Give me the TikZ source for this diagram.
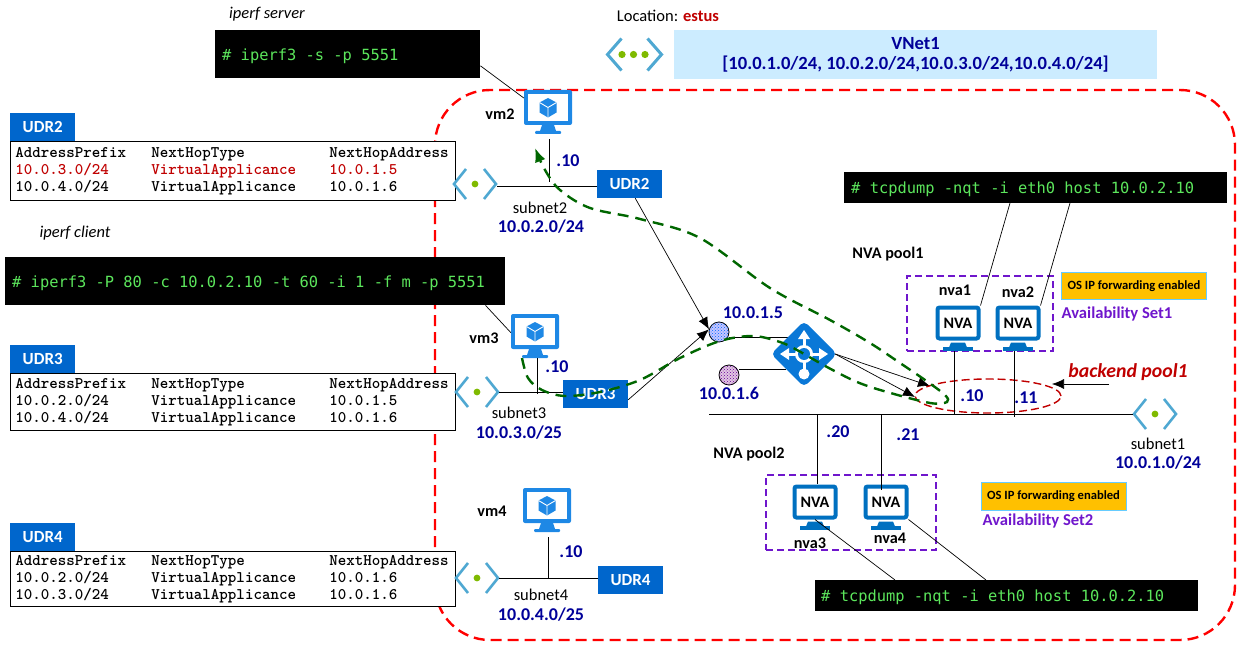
\documentclass[tikz,border=0pt]{standalone}
\usepackage{fontspec}
\setmainfont{Carlito}
\newfontfamily\termfont{DejaVu Sans Mono}
\usetikzlibrary{arrows.meta,positioning,patterns,calc,shapes.geometric}
\definecolor{navytxt}{HTML}{000099}
\definecolor{udrblue}{HTML}{0066CC}
\definecolor{vmblue}{HTML}{1E88E5}
\definecolor{nvablue}{HTML}{0070C0}
\definecolor{lbblue}{HTML}{0A78D7}
\definecolor{vnetblue}{HTML}{4FA8D2}
\definecolor{vnetgreen}{HTML}{7FBA00}
\definecolor{termgreen}{HTML}{5CE65C}
\definecolor{flowgreen}{HTML}{006600}
\definecolor{setpurple}{HTML}{6F16CC}
\definecolor{darkred}{HTML}{C00000}
\definecolor{palesky}{HTML}{CCECFF}
\definecolor{amber}{HTML}{FFC000}
\definecolor{amberedge}{HTML}{66CCFF}
\newcommand{\routerow}[3]{\makebox[136pt][l]{#1}\makebox[178pt][l]{#2}#3}
\tikzset{
  term/.style={rectangle, fill=black, text=termgreen, anchor=north west, align=flush left,
               font=\termfont\fontsize{15.4}{18}\selectfont, inner sep=0pt, text depth=0pt},
  udrtag/.style={rectangle, fill=udrblue, text=white, font=\bfseries\fontsize{17}{20}\selectfont,
                 minimum width=65pt, minimum height=28pt, inner sep=0pt},
  rtable/.style={rectangle, draw=black, fill=white, line width=0.9pt, anchor=north west, align=flush left,
                 font=\ttfamily\bfseries\fontsize{16.2}{17}\selectfont, minimum width=445pt,
                 inner sep=0pt, text width=438pt},
  navylbl/.style={text=navytxt, font=\bfseries\fontsize{18}{20}\selectfont, inner sep=0pt},
  sublbl/.style={font=\fontsize{16.5}{20}\selectfont, inner sep=0pt},
  namelbl/.style={font=\bfseries\fontsize{16.2}{18}\selectfont, inner sep=0pt},
  iplbl/.style={text=navytxt, font=\bfseries\fontsize{18}{20}\selectfont, inner sep=0pt},
  notelbl/.style={font=\itshape\fontsize{16.5}{20}\selectfont, inner sep=0pt},
  iconbox/.style={rectangle, inner sep=0pt, minimum width=#1, minimum height=44pt},
  nvamon/.style={rectangle, rounded corners=2pt, draw=nvablue, fill=white, line width=4pt,
                 minimum width=41pt, minimum height=31pt, inner sep=0pt,
                 font=\bfseries\fontsize{16}{18}\selectfont},
  setbox/.style={rectangle, draw=setpurple, dashed, dash pattern=on 7pt off 4pt, line width=1.7pt},
  setlbl/.style={text=setpurple, font=\bfseries\fontsize{16.6}{18}\selectfont, inner sep=0pt},
  fwdbox/.style={rectangle, fill=amber, draw=amberedge, line width=1pt,
                 font=\bfseries\fontsize{12.6}{15}\selectfont, minimum width=145pt, minimum height=27.5pt, inner sep=0pt},
  arr/.style={-{Latex[length=12pt,width=10pt]}, line width=0.7pt, draw=black},
  wire/.style={line width=0.9pt, draw=black},
  flow/.style={draw=flowgreen, line width=2.4pt, dash pattern=on 11pt off 7pt},
  vnetpic/.pic={
    \draw[vnetblue, line width=2.6pt] (-9,-15) -- (-21,0) -- (-9,15);
    \draw[vnetblue, line width=2.6pt] (9,-15) -- (21,0) -- (9,15);
  },
  vnetwide/.pic={
    \draw[vnetblue, line width=3pt] (-13,-16) -- (-27,0) -- (-13,16);
    \draw[vnetblue, line width=3pt] (13,-16) -- (27,0) -- (13,16);
  },
  vmpic/.pic={
    \fill[vmblue, rounded corners=2pt] (-24,-22) rectangle (24,13);
    \fill[white] (-20,-18) rectangle (20,9);
    \fill[vmblue] (-6,13) -- (6,13) -- (8,19) -- (-8,19) -- cycle;
    \fill[vmblue, rounded corners=1pt] (-13,19) rectangle (13,22);
    \fill[vmblue] (0,-14) -- (8.5,-9.5) -- (8.5,0.5) -- (0,5.5) -- (-8.5,0.5) -- (-8.5,-9.5) -- cycle;
    \draw[white, line width=0.9pt] (-8.5,-9.5) -- (0,-4.5) -- (8.5,-9.5) (0,-4.5) -- (0,5.5);
  },
  nvastand/.pic={
    \fill[nvablue] (-7,2) -- (7,2) -- (9,7) -- (-9,7) -- cycle;
    \fill[nvablue] (-15,6.5) rectangle (15,10.5);
  },
  lbpic/.pic={
    \fill[lbblue, rounded corners=5pt] (0,-33) -- (33,0) -- (0,33) -- (-33,0) -- cycle;
    \draw[white, line width=3pt] (-19,0) -- (19,0) (0,-18) -- (0,16);
    \fill[white] (0,-24) -- (6,-15) -- (-6,-15) -- cycle;
    \fill[white] (-24,0) -- (-15,-6) -- (-15,6) -- cycle;
    \fill[white] (24,0) -- (15,-6) -- (15,6) -- cycle;
    \fill[white] (0,0) circle (9);
    \fill[lbblue] (0,0) circle (6);
    \fill[white] (0,20) circle (5.5);
  },
}
\begin{document}
\begin{tikzpicture}[x=1pt,y=-1pt,node distance=0pt]
  \useasboundingbox (0,0) rectangle (1247,650);
  \draw[draw=red, line width=2.4pt, dash pattern=on 11pt off 6pt, rounded corners=55pt] (435,90) rectangle (1235,640);

  \node[notelbl] (srvnote) at (267,14) {iperf server};
  \node[term, minimum width=265pt, minimum height=48pt, text width=257pt] (srvterm) at (215,30) {\hspace*{3pt}\# iperf3 -s -p 5551};
  \node[notelbl] (clinote) at (75,233) {iperf client};
  \node[term, minimum width=500pt, minimum height=48pt, text width=500pt] (cliterm) at (5,257) {\hspace*{7pt}\# iperf3 -P 80 -c 10.0.2.10 -t 60 -i 1 -f m -p 5551};
  \node[term, minimum width=383pt, minimum height=31pt, text width=383pt] (dumpa) at (844,172) {\hspace*{7pt}\# tcpdump -nqt -i eth0 host 10.0.2.10};
  \node[term, minimum width=383pt, minimum height=31pt, text width=383pt] (dumpb) at (815,580) {\hspace*{6pt}\# tcpdump -nqt -i eth0 host 10.0.2.10};

  \node[sublbl, font=\fontsize{16.5}{18}\selectfont] (loc) at (668,16) {Location: \textcolor{darkred}{\textbf{estus}}};
  \node[iconbox=58pt] (vnet1) at (634.5,54.5) {};
  \pic at (vnet1) {vnetwide};
  \fill[vnetgreen] (622,54.5) circle (3.6) (633.5,54.5) circle (3.6) (645,54.5) circle (3.6);
  \node[rectangle, fill=palesky, minimum width=483pt, minimum height=49pt, align=center, inner sep=0pt,
        text=navytxt, font=\bfseries\fontsize{18.6}{20}\selectfont] (vnetbox) at (915.5,54.5) {VNet1\\{}[10.0.1.0/24, 10.0.2.0/24,10.0.3.0/24,10.0.4.0/24]};

  \node[rtable, minimum height=59pt] (tbl2) at (10,141) {\hspace*{1.5pt}\parbox{436pt}{\routerow{AddressPrefix}{NextHopType}{NextHopAddress}\\\color{darkred}\routerow{10.0.3.0/24}{VirtualApplicance}{10.0.1.5}\\\color{black}\routerow{10.0.4.0/24}{VirtualApplicance}{10.0.1.6}}};
  \node[udrtag, above right=0pt and 0pt of tbl2.north west, anchor=south west] (hdr2) {UDR2};
  \node[rtable, minimum height=57pt] (tbl3) at (10,373) {\hspace*{1.5pt}\parbox{436pt}{\routerow{AddressPrefix}{NextHopType}{NextHopAddress}\\\routerow{10.0.2.0/24}{VirtualApplicance}{10.0.1.5}\\\routerow{10.0.4.0/24}{VirtualApplicance}{10.0.1.6}}};
  \node[udrtag, above right=0pt and 0pt of tbl3.north west, anchor=south west] (hdr3) {UDR3};
  \node[rtable, minimum height=55pt] (tbl4) at (10,551) {\hspace*{1.5pt}\parbox{436pt}{\routerow{AddressPrefix}{NextHopType}{NextHopAddress}\\\routerow{10.0.2.0/24}{VirtualApplicance}{10.0.1.6}\\\routerow{10.0.3.0/24}{VirtualApplicance}{10.0.1.6}}};
  \node[udrtag, above right=0pt and 0pt of tbl4.north west, anchor=south west] (hdr4) {UDR4};

  \node[iconbox=48pt] (vm2) at (548,112) {};
  \pic at (vm2) {vmpic};
  \node[namelbl] (vm2lbl) at (500,114) {vm2};
  \node[iconbox=48pt] (vm3) at (535,336) {};
  \pic at (vm3) {vmpic};
  \node[namelbl] (vm3lbl) at (484,338) {vm3};
  \node[iconbox=48pt] (vm4) at (547,510) {};
  \pic at (vm4) {vmpic};
  \node[namelbl] (vm4lbl) at (492,511) {vm4};

  \node[iconbox=44pt] (sub2) at (475,184) {};
  \pic at (sub2) {vnetpic};
  \fill[vnetgreen] (sub2) circle (3.4);
  \node[iconbox=44pt] (sub3) at (477,392) {};
  \pic at (sub3) {vnetpic};
  \fill[vnetgreen] (sub3) circle (3.4);
  \node[iconbox=44pt] (sub4) at (477,578) {};
  \pic at (sub4) {vnetpic};
  \fill[vnetgreen] (sub4) circle (3.4);
  \node[iconbox=44pt] (sub1) at (1155,414) {};
  \pic at (sub1) {vnetpic};
  \fill[vnetgreen] (sub1) circle (3.4);

  \node[udrtag] (udr2) at (629.5,184) {UDR2};
  \node[udrtag] (udr3) at (595.5,394) {UDR3};
  \node[udrtag] (udr4) at (630.5,580) {UDR4};

  \node[sublbl] (sub2lbl) at (540,208) {subnet2};
  \node[navylbl] (sub2ip) at (541,227) {10.0.2.0/24};
  \node[sublbl] (sub3lbl) at (519,413) {subnet3};
  \node[navylbl] (sub3ip) at (519,433) {10.0.3.0/25};
  \node[sublbl] (sub4lbl) at (541,595) {subnet4};
  \node[navylbl] (sub4ip) at (541,615) {10.0.4.0/25};
  \node[sublbl] (sub1lbl) at (1158,444) {subnet1};
  \node[navylbl] (sub1ip) at (1158,463) {10.0.1.0/24};
  \node[iplbl] (ipa) at (568,161) {.10};
  \node[iplbl] (ipb) at (557,367) {.10};
  \node[iplbl] (ipc) at (571,552) {.10};

  \coordinate (bus2) at (549,186);
  \coordinate (bus3) at (537,392);
  \coordinate (bus4) at (548,578);
  \draw[wire] (sub2.east |- bus2) -- (udr2.west |- bus2);
  \draw[wire] (sub3.east |- bus3) -- (udr3.west |- bus3);
  \draw[wire] (sub4.east |- bus4) -- (udr4.west |- bus4);
  \draw[wire] (549,139) -- (549,182);
  \draw[wire] (bus3 |- vm3.south) -- (537,394);
  \draw[wire] (548,537) -- (bus4);
  \draw[wire, line width=0.7pt] (srvterm.-5) -- (vm2.150);
  \draw[wire, line width=0.7pt] (cliterm.-6.2) -- (vm3.172);

  \node[circle, draw=black, line width=0.8pt, fill=blue!22!white, minimum size=20pt, inner sep=0pt,
        postaction={pattern=crosshatch dots, pattern color=blue!60!cyan}] (gwa) at (719,332) {};
  \node[circle, draw=black, line width=0.8pt, fill=violet!22!white, minimum size=20pt, inner sep=0pt,
        postaction={pattern=crosshatch dots, pattern color=violet!80!blue}] (gwb) at (729,375) {};
  \node[iplbl] (gwaip) at (753,313) {10.0.1.5};
  \node[iplbl] (gwbip) at (729,393) {10.0.1.6};
  \node[iconbox=62pt] (lb) at (804,354) {};
  \coordinate (lbA) at (802,337);
  \coordinate (lbB) at (786,369);
  \draw[wire] (gwa.east |- lbA) -- (lbA);
  \draw[wire] (gwb.east |- lbB) -- (lbB);
  \pic at (lb) {lbpic};
  \draw[arr] (udr2.-68) -- (gwa.165);
  \draw[arr] (udr3.-10) -- (gwa.165);

  \coordinate (beA) at (930,386);
  \coordinate (beB) at (915,397);
  \draw[arr] (lb.east) -- (beA);
  \draw[arr] (lb.east) -- (beB);
  \node[ellipse, draw=darkred, dashed, dash pattern=on 8pt off 4pt, line width=1.4pt, minimum width=146pt, minimum height=34pt, inner sep=0pt] (backend) at (988,396) {};
  \node[text=darkred, font=\bfseries\itshape\fontsize{19.8}{22}\selectfont, inner sep=0pt] (backendlbl) at (1128,372) {backend pool1};
  \coordinate (backendtail) at (1109,384);
  \draw[arr] (backendtail) -- (1052,384);

  \coordinate (busl) at (709,414);
  \draw[wire] (busl) -- (sub1.west |- busl);
  \node[iplbl] (ipd) at (972,396) {.10};
  \node[iplbl] (ipe) at (1026,398) {.11};
  \node[iplbl] (ipf) at (838,432) {.20};
  \node[iplbl] (ipg) at (908,435) {.21};

  \node[setbox, minimum width=146pt, minimum height=75pt] (seta) at (980,313.5) {};
  \node[namelbl] (poola) at (888,254) {NVA pool1};
  \node[namelbl] (nvaalbl) at (955,290) {nva1};
  \node[namelbl] (nvablbl) at (1018,292) {nva2};
  \node[nvamon] (nvaa) at (958,323) {NVA};
  \pic at (nvaa.south) {nvastand};
  \node[nvamon] (nvab) at (1018,323) {NVA};
  \pic at (nvab.south) {nvastand};
  \node[fwdbox] (fwda) at (1134,286) {OS IP forwarding enabled};
  \node[setlbl] (setalbl) at (1117,314) {Availability Set1};

  \node[setbox, minimum width=170pt, minimum height=75pt] (setb) at (851,512.5) {};
  \node[namelbl] (poolb) at (749,454) {NVA pool2};
  \node[nvamon] (nvac) at (815,502) {NVA};
  \pic at (nvac.south) {nvastand};
  \node[nvamon] (nvad) at (886,502) {NVA};
  \pic at (nvad.south) {nvastand};
  \node[namelbl] (nvaclbl) at (810,543) {nva3};
  \node[namelbl] (nvadlbl) at (890,538) {nva4};
  \node[fwdbox] (fwdb) at (1053.5,496.5) {OS IP forwarding enabled};
  \node[setlbl] (setblbl) at (1038,521) {Availability Set2};

  \draw[wire] (954.5,351) -- (954.5,414);
  \draw[wire] (1014.5,351) -- (1014.5,417);
  \draw[wire] (817.5,414) -- (817.5,484);
  \draw[wire] (881.5,414) -- (881.5,490);
  \draw[wire, line width=0.7pt] (1010,203) -- (nvaa.north east);
  \draw[wire, line width=0.7pt] (1070,203) -- (nvab.north east);
  \draw[wire, line width=0.7pt] (nvac.south) -- (895,580);
  \draw[wire, line width=0.7pt] (nvad.south east) -- (986,580);

  \draw[flow, -{Latex[length=14pt,width=11pt]}] plot[smooth, tension=0.55] coordinates {(522,358) (528,378) (542,390) (565,396) (600,392) (640,380) (680,358) (720,341) (753,336) (780,342) (797,350) (827,367) (857,382) (887,392) (930,403) (947,402) (945,395) (925,380) (900,363) (870,343) (830,320) (770,288) (700,238) (640,219) (590,208) (560,190) (545,170) (535,148)};
\end{tikzpicture}
\end{document}
